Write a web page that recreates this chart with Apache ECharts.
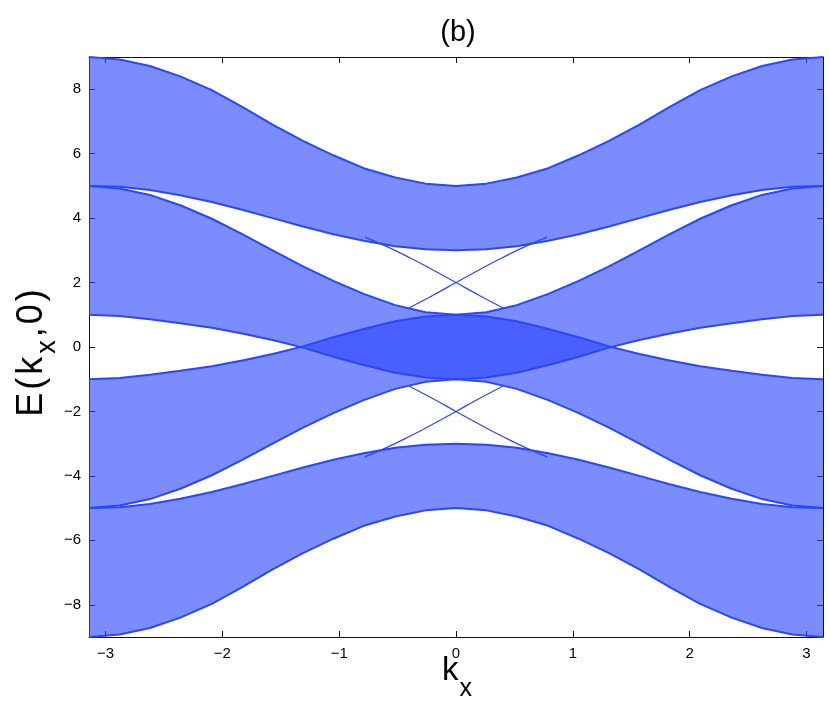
<!DOCTYPE html>
<html>
<head>
<meta charset="utf-8">
<script src="https://cdn.jsdelivr.net/npm/echarts@6/dist/echarts.min.js"></script>
<style>
  html, body { margin: 0; background: #fff; }
  #main { width: 830px; height: 709px; }
</style>
</head>
<body>
<div id="main"></div>
<script>
// k_x sample points (band edges)
const kx = [-3.1416, -2.88, -2.62, -2.36, -2.09, -1.83, -1.57, -1.31, -1.05, -0.79, -0.52, -0.26, 0,
  0.26, 0.52, 0.79, 1.05, 1.31, 1.57, 1.83, 2.09, 2.36, 2.62, 2.88, 3.1416]

// band edges, top to bottom
const bandATop = [9.00, 8.92, 8.72, 8.40, 7.97, 7.45, 6.90, 6.40, 5.95, 5.55, 5.26, 5.07, 5.00,
  5.07, 5.26, 5.55, 5.95, 6.40, 6.90, 7.45, 7.97, 8.40, 8.72, 8.92, 9.00]
const bandABottom = [5.00, 4.97, 4.87, 4.71, 4.50, 4.26, 4.00, 3.74, 3.50, 3.30, 3.13, 3.03, 3.00,
  3.03, 3.13, 3.30, 3.50, 3.74, 4.00, 4.26, 4.50, 4.71, 4.87, 4.97, 5.00]
const bandBTop = [5.00, 4.92, 4.72, 4.40, 3.98, 3.50, 3.00, 2.50, 2.05, 1.65, 1.30, 1.08, 1.00,
  1.08, 1.30, 1.65, 2.05, 2.50, 3.00, 3.50, 3.98, 4.40, 4.72, 4.92, 5.00]
const bandBBottom = [1.00, 0.96, 0.86, 0.74, 0.60, 0.42, 0.22, -0.02, -0.30, -0.56, -0.80, -0.95, -1.00,
  -0.95, -0.80, -0.56, -0.30, -0.02, 0.22, 0.42, 0.60, 0.74, 0.86, 0.96, 1.00]
const bandCTop = [-1.00, -0.96, -0.86, -0.74, -0.60, -0.42, -0.22, 0.02, 0.30, 0.56, 0.80, 0.95, 1.00,
  0.95, 0.80, 0.56, 0.30, 0.02, -0.22, -0.42, -0.60, -0.74, -0.86, -0.96, -1.00]
const bandCBottom = [-5.00, -4.92, -4.72, -4.40, -3.98, -3.50, -3.00, -2.50, -2.05, -1.65, -1.30, -1.08, -1.00,
  -1.08, -1.30, -1.65, -2.05, -2.50, -3.00, -3.50, -3.98, -4.40, -4.72, -4.92, -5.00]
const bandDTop = [-5.00, -4.97, -4.87, -4.71, -4.50, -4.26, -4.00, -3.74, -3.50, -3.30, -3.13, -3.03, -3.00,
  -3.03, -3.13, -3.30, -3.50, -3.74, -4.00, -4.26, -4.50, -4.71, -4.87, -4.97, -5.00]
const bandDBottom = [-9.00, -8.92, -8.72, -8.40, -7.97, -7.45, -6.90, -6.40, -5.95, -5.55, -5.26, -5.07, -5.00,
  -5.07, -5.26, -5.55, -5.95, -6.40, -6.90, -7.45, -7.97, -8.40, -8.72, -8.92, -9.00]

// edge states (the two X crossings at E = +2 and E = -2)
const edgeKLeft = [-0.78, -0.6, -0.4, -0.2, 0, 0.2, 0.4]
const edgeKRight = [-0.4, -0.2, 0, 0.2, 0.4, 0.6, 0.78]
const edgeUpperFall = [3.41, 3.13, 2.78, 2.40, 2.00, 1.60, 1.22]
const edgeUpperRise = [1.22, 1.60, 2.00, 2.40, 2.78, 3.13, 3.41]
const edgeLowerFall = [-1.22, -1.60, -2.00, -2.40, -2.78, -3.13, -3.41]
const edgeLowerRise = [-3.41, -3.13, -2.78, -2.40, -2.00, -1.60, -1.22]

const xTicks = [-3, -2, -1, 0, 1, 2, 3]
const yTicks = [-8, -6, -4, -2, 0, 2, 4, 6, 8]

const blue = '#2a46ff'
const bandFill = 'rgba(42, 70, 255, 0.62)'
const font = 'Liberation Sans'
const minus = v => String(v).replace('-', '\u2212')

// measure text so the axis titles (with subscripts) can be laid out glyph by glyph
const measureCtx = document.createElement('canvas').getContext('2d')
function textWidth(t, size) {
  measureCtx.font = size + 'px "' + font + '"'
  return measureCtx.measureText(t).width
}
// tokens: [text, fontSize, downward shift]
function titleGlyphs(tokens, spacing) {
  const out = []
  let x = 0
  tokens.forEach(([t, size, dy]) => {
    for (const ch of t) {
      out.push({
        type: 'text',
        x: x,
        y: dy,
        style: { text: ch, fontFamily: font, fontSize: size, fill: '#000', align: 'left', verticalAlign: 'middle' }
      })
      x += textWidth(ch, size) + spacing
    }
  })
  return { children: out, length: x - spacing }
}

const myChart = echarts.init(document.getElementById('main'))

function bandSeries(name, top, bottom) {
  return {
    name: name,
    type: 'custom',
    clip: true,
    silent: true,
    encode: { x: 0, y: [1, 2] },
    data: kx.map((k, i) => [k, top[i], bottom[i]]),
    renderItem: function (params, api) {
      // whole band as one polygon, drawn once
      if (params.dataIndexInside !== 0) return null
      const pts = []
      for (let i = 0; i < kx.length; i++) pts.push(api.coord([api.value(0, i), api.value(1, i)]))
      for (let i = kx.length - 1; i >= 0; i--) pts.push(api.coord([api.value(0, i), api.value(2, i)]))
      return { type: 'polygon', shape: { points: pts }, style: { fill: bandFill, stroke: null } }
    }
  }
}

function lineSeries(xs, ys, width, smooth) {
  return {
    type: 'line',
    silent: true,
    showSymbol: false,
    smooth: smooth,
    clip: true,
    z: 3,
    data: xs.map((k, i) => [k, ys[i]]),
    lineStyle: { color: blue, width: width }
  }
}

const edges = [bandATop, bandABottom, bandBTop, bandBBottom, bandCTop, bandCBottom, bandDTop, bandDBottom]

const xTitle = titleGlyphs([['k', 33, 0], ['x', 25, 18]], 1)
const yTitle = titleGlyphs([['E(k', 36, 0], ['x', 27, 16], [',0)', 36, 0]], 3)

const axisLineStyle = { color: '#111', width: 1 }

const option = {
  animation: false,
  backgroundColor: '#fff',
  title: {
    text: '(b)',
    left: 453,
    top: 13,
    textAlign: 'center',
    textStyle: { fontFamily: font, fontSize: 29, fontWeight: 'normal', color: '#000' }
  },
  grid: { left: 89, right: 7, top: 57, bottom: 72, containLabel: false, outerBoundsMode: 'none' },
  xAxis: [
    {
      type: 'value',
      min: -Math.PI,
      max: Math.PI,
      position: 'bottom',
      axisLine: { onZero: false, lineStyle: axisLineStyle },
      axisTick: { inside: true, length: 6, customValues: xTicks, lineStyle: { color: '#111' } },
      axisLabel: { customValues: xTicks, formatter: minus, fontFamily: font, fontSize: 15, color: '#000', margin: 9 },
      splitLine: { show: false }
    },
    {
      type: 'value',
      min: -Math.PI,
      max: Math.PI,
      position: 'top',
      axisLine: { onZero: false, lineStyle: axisLineStyle },
      axisTick: { inside: true, length: 6, customValues: xTicks, lineStyle: { color: '#111' } },
      axisLabel: { show: false },
      splitLine: { show: false }
    }
  ],
  yAxis: [
    {
      type: 'value',
      min: -9,
      max: 9,
      position: 'left',
      axisLine: { onZero: false, lineStyle: axisLineStyle },
      axisTick: { inside: true, length: 6, customValues: yTicks, lineStyle: { color: '#111' } },
      axisLabel: { customValues: yTicks, formatter: minus, fontFamily: font, fontSize: 15, color: '#000', margin: 8 },
      splitLine: { show: false }
    },
    {
      type: 'value',
      min: -9,
      max: 9,
      position: 'right',
      axisLine: { onZero: false, lineStyle: axisLineStyle },
      axisTick: { inside: true, length: 6, customValues: yTicks, lineStyle: { color: '#111' } },
      axisLabel: { show: false },
      splitLine: { show: false }
    }
  ],
  graphic: [
    { type: 'group', x: 442, y: 671, children: xTitle.children },
    { type: 'group', x: 32, y: 353 + yTitle.length / 2, rotation: Math.PI / 2, children: yTitle.children }
  ],
  series: [
    bandSeries('A', bandATop, bandABottom),
    bandSeries('B', bandBTop, bandBBottom),
    bandSeries('C', bandCTop, bandCBottom),
    bandSeries('D', bandDTop, bandDBottom)
  ]
    .concat(edges.map(e => lineSeries(kx, e, 2, false)))
    .concat([
      lineSeries(edgeKLeft, edgeUpperFall, 1.2, true),
      lineSeries(edgeKRight, edgeUpperRise, 1.2, true),
      lineSeries(edgeKRight, edgeLowerFall, 1.2, true),
      lineSeries(edgeKLeft, edgeLowerRise, 1.2, true)
    ])
}

myChart.setOption(option)
window.addEventListener('resize', () => {
  myChart.resize()
})
</script>
</body>
</html>
